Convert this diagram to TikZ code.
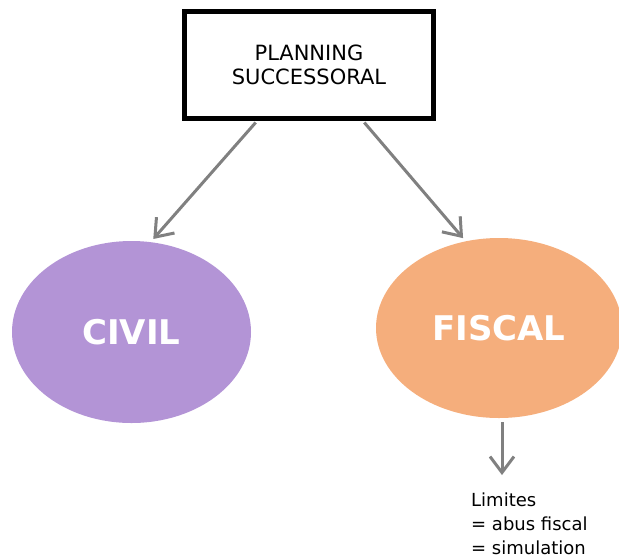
\documentclass[tikz,border=0pt]{standalone}
\usepackage{fontspec}
\setmainfont{DejaVu Sans}
\usetikzlibrary{shapes.geometric,arrows.meta}
\definecolor{civilc}{RGB}{179,148,214}
\definecolor{fiscalc}{RGB}{245,174,124}
\definecolor{arrc}{RGB}{128,128,128}
\begin{document}
\begin{tikzpicture}[x=1pt,y=-1pt,
  topbox/.style={draw=black,line width=5pt,minimum width=249pt,minimum height=107pt,inner sep=0pt,align=center,font=\fontsize{21}{24}\selectfont},
  blob/.style={ellipse,inner sep=0pt,text=white,font=\fontsize{34}{38}\selectfont\bfseries},
  arr/.style={draw=arrc,line width=3pt,-{Straight Barb[length=16pt,width=24pt,line width=3pt]}},
  note/.style={inner sep=0pt,align=left,anchor=north west,font=\fontsize{18}{24}\selectfont}]
\useasboundingbox (0,0) rectangle (619,558);
\node[topbox] (box) at (309,65) {PLANNING\\SUCCESSORAL};
\node[blob,fill=civilc,minimum width=239pt,minimum height=182pt] (civil) at (131.5,332) {CIVIL};
\node[blob,fill=fiscalc,minimum width=246pt,minimum height=180pt] (fiscal) at (499,328) {FISCAL};
\node[note] (limits) at (471,493) {Limites\\= abus fiscal\\= simulation};
\draw[arr,shorten <=2pt,shorten >=4pt] ([xshift=-52pt]box.south) -- (civil.78);
\draw[arr,shorten <=2pt,shorten >=4pt] ([xshift=54pt]box.south) -- (fiscal.111);
\draw[arr,shorten <=4pt,shorten >=18pt] ([xshift=3pt]fiscal.south) -- ([xshift=3pt]fiscal.south |- limits.north);
\end{tikzpicture}
\end{document}
